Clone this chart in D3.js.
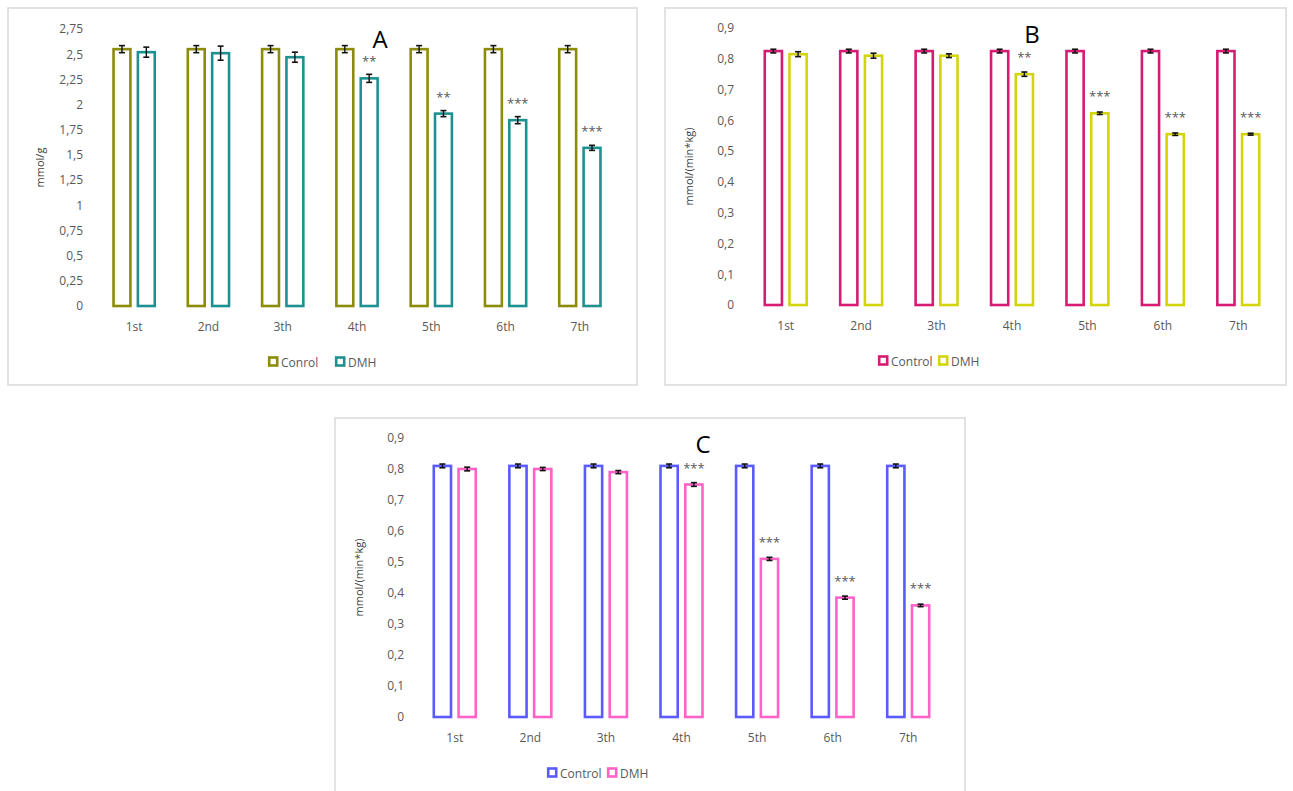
<!DOCTYPE html>
<html>
<head>
<meta charset="utf-8">
<script src="https://cdn.jsdelivr.net/npm/d3@7"></script>
<style>
  body { margin: 0; background: #fff; }
  text { font-family: "Open Sans", "Noto Sans", sans-serif; }
</style>
</head>
<body>
<svg id="chart" width="1293" height="791"></svg>
<script>
// Categories (same for all three panels)
const weeks = ["1st", "2nd", "3th", "4th", "5th", "6th", "7th"];

// Panel A
const controlA = [2.55, 2.55, 2.55, 2.55, 2.55, 2.55, 2.55];
const dmhA = [2.52, 2.51, 2.47, 2.26, 1.91, 1.845, 1.57];
const errControlA = [0.035, 0.035, 0.035, 0.035, 0.035, 0.035, 0.035];
const errDmhA = [0.05, 0.07, 0.05, 0.04, 0.03, 0.035, 0.025];
const starsA = ["", "", "", "**", "**", "***", "***"];
const ticksA = [0, 0.25, 0.5, 0.75, 1, 1.25, 1.5, 1.75, 2, 2.25, 2.5, 2.75];

// Panel B
const controlB = [0.825, 0.825, 0.825, 0.825, 0.825, 0.825, 0.825];
const dmhB = [0.815, 0.81, 0.81, 0.75, 0.623, 0.555, 0.555];
const errControlB = [0.006, 0.006, 0.006, 0.006, 0.006, 0.006, 0.006];
const errDmhB = [0.008, 0.008, 0.006, 0.007, 0.004, 0.004, 0.003];
const starsB = ["", "", "", "**", "***", "***", "***"];

// Panel C
const controlC = [0.81, 0.81, 0.81, 0.81, 0.81, 0.81, 0.81];
const dmhC = [0.80, 0.80, 0.79, 0.75, 0.51, 0.385, 0.36];
const errControlC = [0.006, 0.006, 0.006, 0.006, 0.006, 0.006, 0.006];
const errDmhC = [0.006, 0.005, 0.005, 0.006, 0.005, 0.005, 0.004];
const starsC = ["", "", "", "***", "***", "***", "***"];

const ticksBC = [0, 0.1, 0.2, 0.3, 0.4, 0.5, 0.6, 0.7, 0.8, 0.9];

const svg = d3.select("#chart");
const comma = v => String(v).replace(".", ",");

function drawPanel(p) {
  // khung
  svg.append("rect")
    .attr("x", p.frame[0]).attr("y", p.frame[1])
    .attr("width", p.frame[2] - p.frame[0]).attr("height", p.frame[3] - p.frame[1])
    .attr("fill", "none").attr("stroke", "#d9d9d9").attr("stroke-width", 1.5);

  const x0 = d3.scaleBand()
    .domain(weeks)
    .range([p.left, p.right])
    .paddingInner(0.41)
    .paddingOuter(0.205);

  const x1 = d3.scaleBand()
    .domain(["Control", "DMH"])
    .range([0, x0.bandwidth()])
    .paddingInner(0.2);

  const y = d3.scaleLinear()
    .domain([0, p.yMax])
    .range([p.bottom, p.top]);

  // Trục Y (chỉ nhãn)
  const yAxis = svg.append("g")
    .attr("transform", `translate(${p.tickX},0)`)
    .call(d3.axisLeft(y).tickValues(p.ticks).tickFormat(comma).tickSize(0).tickPadding(0));
  yAxis.select(".domain").remove();
  yAxis.selectAll("text")
    .style("font-size", "12px")
    .attr("fill", "#595959");

  // Trục X (chỉ nhãn)
  const xAxis = svg.append("g")
    .attr("transform", `translate(0,${p.bottom})`)
    .call(d3.axisBottom(x0).tickSize(0).tickPadding(16));
  xAxis.select(".domain").remove();
  xAxis.selectAll("text")
    .style("font-size", "12px")
    .attr("fill", "#595959");

  // tiêu đề trục Y
  svg.append("text")
    .attr("transform", `translate(${p.titleX},${(p.top + p.bottom) / 2}) rotate(-90)`)
    .attr("text-anchor", "middle")
    .style("font-size", "11px")
    .attr("fill", "#404040")
    .text(p.yTitle);

  const rows = weeks.map((w, i) => ({
    week: w,
    values: [
      { key: "Control", v: p.control[i], e: p.errControl[i], color: p.colors[0] },
      { key: "DMH", v: p.dmh[i], e: p.errDmh[i], color: p.colors[1] }
    ],
    star: p.stars[i]
  }));

  const sw = 2.6;
  const groups = svg.append("g").selectAll("g")
    .data(rows)
    .enter().append("g")
      .attr("transform", d => `translate(${x0(d.week)},0)`);

  // Vẽ cột
  groups.selectAll("rect")
    .data(d => d.values)
    .enter().append("rect")
      .attr("x", d => x1(d.key) + sw / 2)
      .attr("y", d => y(d.v))
      .attr("width", x1.bandwidth() - sw)
      .attr("height", d => p.bottom - y(d.v))
      .attr("fill", "#fff")
      .attr("stroke", d => d.color)
      .attr("stroke-width", sw);

  // error bars
  const eb = groups.selectAll("g.err")
    .data(d => d.values)
    .enter().append("g").attr("class", "err")
      .attr("transform", d => `translate(${x1(d.key) + x1.bandwidth() / 2},0)`);
  eb.append("line")
    .attr("y1", d => y(d.v - d.e)).attr("y2", d => y(d.v + d.e))
    .attr("stroke", "#111").attr("stroke-width", 1.4);
  eb.append("line")
    .attr("x1", -3).attr("x2", 3)
    .attr("y1", d => y(d.v + d.e)).attr("y2", d => y(d.v + d.e))
    .attr("stroke", "#111").attr("stroke-width", 1.6);
  eb.append("line")
    .attr("x1", -3).attr("x2", 3)
    .attr("y1", d => y(d.v - d.e)).attr("y2", d => y(d.v - d.e))
    .attr("stroke", "#111").attr("stroke-width", 1.6);

  // dấu sao
  groups.append("text")
    .attr("x", x1("DMH") + x1.bandwidth() / 2)
    .attr("y", d => y(d.values[1].v) - 12)
    .attr("text-anchor", "middle")
    .style("font-size", "13px")
    .attr("fill", "#595959")
    .text(d => d.star);

  // chữ A / B / C
  svg.append("text")
    .attr("x", p.letter[0]).attr("y", p.letter[1])
    .attr("text-anchor", "middle")
    .attr("dominant-baseline", "central")
    .style("font-size", "24px")
    .attr("fill", "#000")
    .text(p.name);

  // Chú thích
  const lg = svg.append("g").attr("transform", `translate(0,${p.legendY})`);
  p.legend.forEach((item, i) => {
    lg.append("rect")
      .attr("x", p.legendX[i] + 1.2).attr("y", -4.5)
      .attr("width", 8).attr("height", 8)
      .attr("fill", "#fff")
      .attr("stroke", p.colors[i]).attr("stroke-width", 2.6);
    lg.append("text")
      .attr("x", p.legendX[i] + 13).attr("y", 0)
      .attr("dominant-baseline", "central")
      .style("font-size", "12px")
      .attr("fill", "#595959")
      .text(item);
  });
}

drawPanel({
  name: "A", frame: [8, 8, 637, 385],
  left: 97, right: 617, top: 29, bottom: 306, yMax: 2.75, ticks: ticksA,
  tickX: 83, titleX: 44, yTitle: "mmol/g",
  control: controlA, dmh: dmhA, errControl: errControlA, errDmh: errDmhA, stars: starsA,
  colors: ["#8c8c0a", "#1f9090"], letter: [380, 38],
  legend: ["Conrol", "DMH"], legendX: [268, 335], legendY: 362
});

drawPanel({
  name: "B", frame: [665, 8, 1286, 385],
  left: 748, right: 1276, top: 28, bottom: 305, yMax: 0.9, ticks: ticksBC,
  tickX: 734, titleX: 693, yTitle: "mmol/(min*kg)",
  control: controlB, dmh: dmhB, errControl: errControlB, errDmh: errDmhB, stars: starsB,
  colors: ["#d81b72", "#d4d40c"], letter: [1032, 33],
  legend: ["Control", "DMH"], legendX: [878, 938], legendY: 361
});

drawPanel({
  name: "C", frame: [335, 418, 965, 805],
  left: 417, right: 946, top: 438, bottom: 717, yMax: 0.9, ticks: ticksBC,
  tickX: 404, titleX: 363, yTitle: "mmol/(min*kg)",
  control: controlC, dmh: dmhC, errControl: errControlC, errDmh: errDmhC, stars: starsC,
  colors: ["#5a5aff", "#ff63c8"], letter: [703, 443],
  legend: ["Control", "DMH"], legendX: [547, 607], legendY: 773
});
</script>
</body>
</html>
